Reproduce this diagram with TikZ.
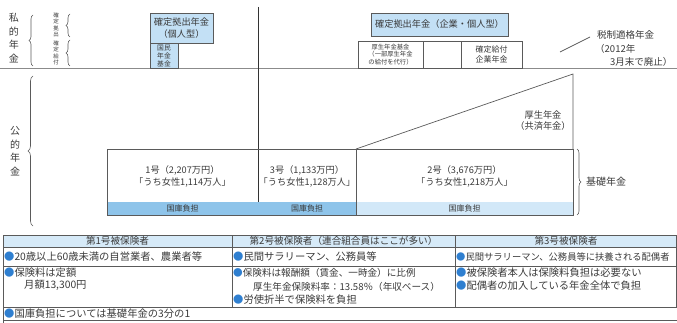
\documentclass[tikz,border=0pt]{standalone}
\usepackage{fontspec}
\setmainfont{Noto Sans CJK JP}
\usetikzlibrary{decorations.pathreplacing}
\definecolor{lb}{HTML}{C3E0F5}
\definecolor{mb}{HTML}{8EC4EA}
\definecolor{pb}{HTML}{D2E8F8}
\definecolor{hb}{HTML}{D6EAF8}
\definecolor{tx}{HTML}{3A3A3A}
\definecolor{ln}{HTML}{5A5A5A}
\definecolor{bul}{HTML}{2F7FD0}
\newcommand{\bu}{\textcolor{bul}{●}}
\begin{document}
\begin{tikzpicture}[x=1pt,y=-1pt,
  every node/.style={text=tx, inner sep=0pt},
  box/.style={draw=ln, line width=0.6pt},
  lbl/.style={font=\fontsize{9.2}{11.5}\selectfont, align=center},
  small/.style={font=\fontsize{6.3}{7.8}\selectfont, align=center},
  vtxt/.style={font=\fontsize{10}{13.5}\selectfont, align=center},
  vsmall/.style={font=\fontsize{5.5}{6.5}\selectfont, align=center},
  cell/.style={font=\fontsize{10.3}{11}\selectfont, anchor=west},
  head/.style={font=\fontsize{9.6}{11}\selectfont},
  brace/.style={decorate, decoration={brace, amplitude=4pt}, draw=ln, line width=0.6pt}]
\useasboundingbox (0,0) rectangle (677,323);

% separators
\draw[ln!70, line width=0.8pt] (0,68) -- (677,68);
\draw[black!80, line width=1pt] (258,7) -- (258,215);

% left labels
\node[vtxt] (shiteki) at (14,38) {私\\的\\年\\金};
\draw[brace] (33,66) -- (33,15);
\node[vsmall] (kakutei1) at (56,25) {確\\定\\拠\\出};
\node[vsmall] (kakutei2) at (56,53) {確\\定\\給\\付};
\draw[brace] (70,37) -- (70,14);
\draw[brace] (70,66) -- (70,40);
\node[vtxt] (koteki) at (15,151) {公\\的\\年\\金};
\draw[brace, decoration={amplitude=5pt}] (33,226) -- (33,76);

% private pension boxes
\draw[box, fill=lb] (150,13) rectangle (213,43);
\node[lbl] (dcind) at (181.5,28) {確定拠出年金\\（個人型）};
\draw[box, fill=lb] (150,43) rectangle (178,68);
\node[font=\fontsize{6.8}{8}\selectfont, align=center] (kokumin) at (164,55.5) {国民\\年金\\基金};

\draw[box, fill=lb] (371,13) rectangle (508,36);
\node[lbl] (dccorp) at (439.5,24.5) {確定拠出年金（企業・個人型）};
\draw[box] (358,41) rectangle (423,68);
\node[small] (kousei) at (390.5,54.5) {厚生年金基金\\（一部厚生年金\\の給付を代行）};
\draw[box] (423,41) rectangle (461,68);
\draw[box] (461,41) rectangle (522,68);
\node[font=\fontsize{8}{10}\selectfont, align=center] (db) at (491.5,54.5) {確定給付\\企業年金};

% tax-qualified pension
\node[font=\fontsize{9.5}{11}\selectfont, anchor=west] (zei1) at (597,35) {税制適格年金};
\node[font=\fontsize{9.5}{11}\selectfont, anchor=west] (zei2) at (595,48.5) {（2012年};
\node[font=\fontsize{9.5}{11}\selectfont, anchor=west] (zei3) at (610,62) {3月末で廃止）};
\coordinate (zA) at (560,52);
\coordinate (zB) at (590,37);
\draw[ln, line width=0.7pt] (zA) -- (zB);

% public pension
\draw[box, line width=0.7pt] (356,149) -- (573,74) -- (573,149);
\node[lbl] (kouseinenkin) at (543,120.5) {厚生年金\\（共済年金）};
\fill[mb] (107,202) rectangle (356,215);
\fill[pb] (356,202) rectangle (573,215);
\draw[box, line width=0.7pt] (107,149) rectangle (573,215);
\draw[box, line width=0.7pt] (356,149) -- (356,215);
\node[lbl] (g1) at (182.5,176.5) {1号（2,207万円）\\「うち女性1,114万人」};
\node[lbl] (g3) at (307,176.5) {3号（1,133万円）\\「うち女性1,128万人」};
\node[lbl] (g2) at (464.5,176.5) {2号（3,676万円）\\「うち女性1,218万人」};
\node[font=\fontsize{8}{10}\selectfont] (k1) at (182.5,208.5) {国庫負担};
\node[font=\fontsize{8}{10}\selectfont] (k3) at (307,208.5) {国庫負担};
\node[font=\fontsize{8}{10}\selectfont] (k2) at (464.5,208.5) {国庫負担};
\draw[brace] (577,149) -- (577,215);
\node[font=\fontsize{10}{12}\selectfont, anchor=west] (kiso) at (586,182) {基礎年金};

% table
\draw[box, fill=hb] (3,235) rectangle (676.5,247);
\draw[box] (3,235) rectangle (676.5,307);
\draw[box] (3,266) -- (676.5,266);
\draw[box] (232,235) -- (232,307);
\draw[box] (455,235) -- (455,307);
\draw[box] (3,307) -- (3,323);
\draw[box] (3,320) -- (676.5,320);

\node[head] (h1) at (117.5,241) {第1号被保険者};
\node[head] (h2) at (343.5,241) {第2号被保険者（連合組合員はここが多い）};
\node[head] (h3) at (566,241) {第3号被保険者};

\node[cell] (a1) at (4,257) {\bu 20歳以上60歳未満の自営業者、農業者等};
\node[cell] (a2) at (4,272.5) {\bu 保険料は定額};
\node[cell] (a3) at (24,285) {月額13,300円};

\node[cell] (b1) at (233,257) {\bu 民間サラリーマン、公務員等};
\node[cell, font=\fontsize{9.6}{11}\selectfont] (b2) at (233,273) {\bu 保険料は報酬額（賃金、一時金）に比例};
\node[cell, font=\fontsize{9.6}{11}\selectfont] (b3) at (253,286.5) {厚生年金保険料率：13.58％（年収ベース）};
\node[cell] (b4) at (233,300) {\bu 労使折半で保険料を負担};

\node[cell, font=\fontsize{9.3}{11}\selectfont] (c1) at (456,257) {\bu 民間サラリーマン、公務員等に扶養される配偶者};
\node[cell] (c2) at (456,273) {\bu 被保険者本人は保険料負担は必要ない};
\node[cell] (c3) at (456,286) {\bu 配偶者の加入している年金全体で負担};

\node[cell] (d1) at (4,314) {\bu 国庫負担については基礎年金の3分の1};
\end{tikzpicture}
\end{document}
